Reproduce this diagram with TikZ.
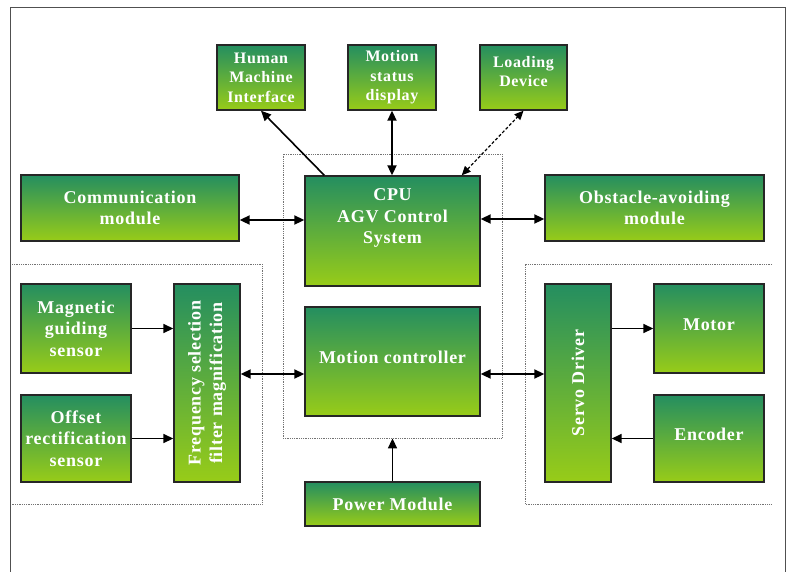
\documentclass[tikz,border=0pt]{standalone}
\usepackage{fontspec}
\setmainfont{Liberation Serif}
\newfontfamily\boxfont[LetterSpace=4]{Liberation Serif}
\usetikzlibrary{arrows.meta,calc}
\definecolor{gtop}{RGB}{36,142,96}
\definecolor{gbot}{RGB}{152,204,24}
\definecolor{framec}{RGB}{80,80,80}
\begin{document}
\begin{tikzpicture}[x=1pt,y=-1pt,
  box/.style={draw=black!85, line width=1.4pt, top color=gtop, bottom color=gbot, inner sep=0pt, anchor=center},
  txt/.style={text=white, font=\boxfont\bfseries\fontsize{18}{21.5}\selectfont, align=center, inner sep=0pt},
  stxt/.style={text=white, font=\boxfont\bfseries\fontsize{16}{19.5}\selectfont, align=center, inner sep=0pt},
  grp/.style={draw=black!55, densely dotted, line width=0.8pt},
  arr/.style={line width=1.6pt, -{Triangle[length=10pt,width=9pt]}},
  dbl/.style={line width=2pt, {Triangle[length=10pt,width=9pt]}-{Triangle[length=10pt,width=9pt]}},
  thin dbl/.style={line width=1.2pt, densely dashed, {Triangle[length=9pt,width=8pt]}-{Triangle[length=9pt,width=8pt]}}]
\useasboundingbox (0,0) rectangle (788,571);
\fill[white] (0,0) rectangle (788,571);
\draw[framec, line width=1pt] (10,7) rectangle (785,600);

% group frames
\node[grp, minimum width=219pt, minimum height=284pt, inner sep=0pt] (grp) at (392.5,296) {};
\draw[grp] (12,264) -- (262,264) -- (262,504) -- (12,504);
\draw[grp] (772,264) -- (525,264) -- (525,504) -- (772,504);

% top boxes
\node[box, minimum width=88pt, minimum height=65pt] (hmi) at (261,77.5) {};
\node[stxt] at (hmi.center) {Human\\Machine\\Interface};
\node[box, minimum width=88pt, minimum height=65pt] (msd) at (392,77.5) {};
\node[stxt] at (msd.center) {Motion\\status\\display};
\node[box, minimum width=87pt, minimum height=65pt] (ld) at (523.5,77.5) {};
\node[stxt] at ($(ld.center)+(0,-6)$) {Loading\\Device};

% middle row
\node[box, minimum width=218pt, minimum height=66pt] (comm) at (130,208) {};
\node[txt] at (comm.center) {Communication\\module};
\node[box, minimum width=175pt, minimum height=110pt] (cpu) at (392.5,231) {};
\node[txt] at ($(cpu.center)+(0,-13)$) {CPU\\AGV Control\\System};
\node[box, minimum width=219pt, minimum height=66pt] (obs) at (654.5,208) {};
\node[txt] at (obs.center) {Obstacle-avoiding\\module};

% left group
\node[box, minimum width=110pt, minimum height=89pt] (mag) at (76,328.5) {};
\node[txt] at (mag.center) {Magnetic\\guiding\\sensor};
\node[box, minimum width=110pt, minimum height=87pt] (off) at (76,438.5) {};
\node[txt] at (off.center) {Offset\\rectification\\sensor};
\node[box, minimum width=66pt, minimum height=198pt] (freq) at (207,383) {};
\node[txt, rotate=90] at (freq.center) {Frequency selection\\filter magnification};

% center
\node[box, minimum width=175pt, minimum height=109pt] (mc) at (392.5,361.5) {};
\node[txt] at ($(mc.center)+(0,-4)$) {Motion controller};
\node[box, minimum width=175pt, minimum height=44pt] (pow) at (392.5,504) {};
\node[txt] at (pow.center) {Power Module};

% right group
\node[box, minimum width=66pt, minimum height=198pt] (servo) at (578,383) {};
\node[txt, rotate=90] at (servo.center) {Servo Driver};
\node[box, minimum width=110pt, minimum height=89pt] (motor) at (709,328.5) {};
\node[txt] at ($(motor.center)+(0,-4)$) {Motor};
\node[box, minimum width=110pt, minimum height=87pt] (enc) at (709,438.5) {};
\node[txt] at ($(enc.center)+(0,-4)$) {Encoder};

% connectors
\draw[arr] ($(cpu.north west)+(20,0)$) -- (hmi.south);
\draw[dbl] (msd.south) -- (msd.south |- cpu.north);
\draw[thin dbl] ($(cpu.north east)+(-19,0)$) -- (ld.south);
\coordinate (c1) at ($(comm.east)+(0,12)$);
\draw[dbl] (c1) -- (cpu.west |- c1);
\coordinate (c2) at ($(obs.west)+(0,11)$);
\draw[dbl] (cpu.east |- c2) -- (c2);
\draw[arr] (mag.east) -- (freq.west |- mag.east);
\draw[arr] (off.east) -- (freq.west |- off.east);
\coordinate (c3) at ($(mc.west)+(0,12.5)$);
\draw[dbl] (freq.east |- c3) -- (c3);
\draw[dbl] (mc.east |- c3) -- (servo.west |- c3);
\draw[arr] (servo.east |- motor.west) -- (motor.west);
\draw[arr] (enc.west) -- (servo.east |- enc.west);
\draw[arr] (pow.north) -- (pow.north |- grp.south);
\end{tikzpicture}
\end{document}
